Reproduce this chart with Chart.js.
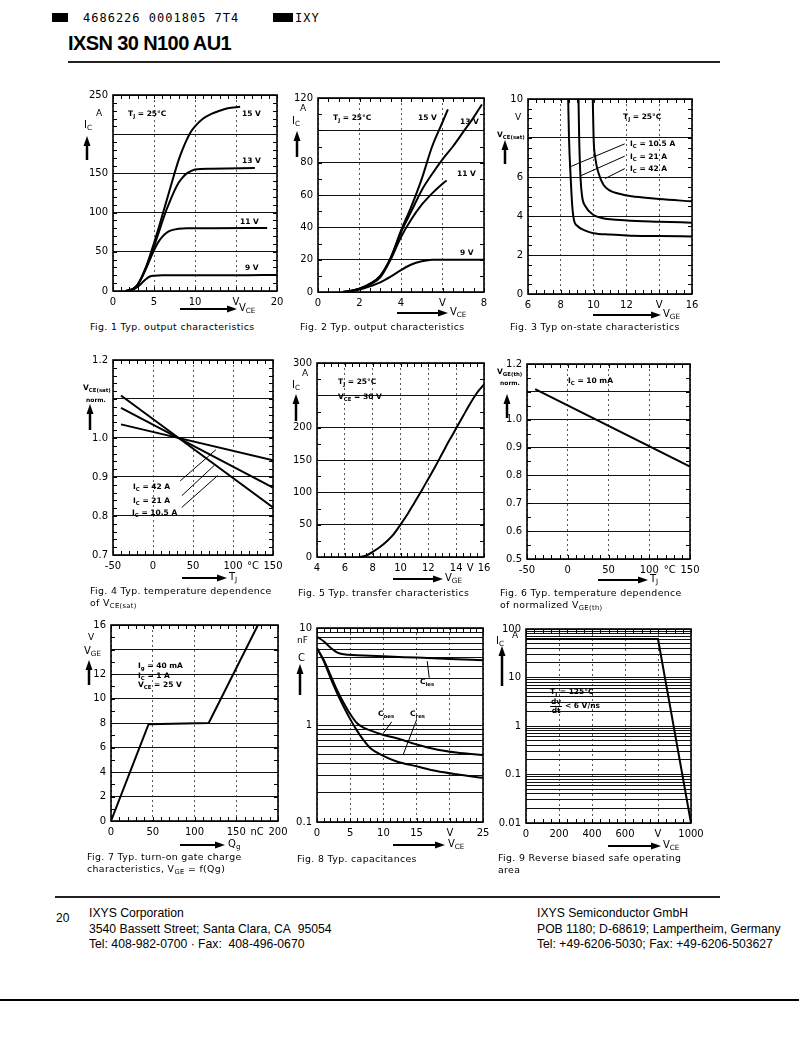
<!DOCTYPE html>
<html>
<head>
<meta charset="utf-8">
<script src="https://cdn.jsdelivr.net/npm/chart.js@4.4.0/dist/chart.umd.min.js"></script>
<style>
  body { margin: 0; background: #fff; }
  #page { position: relative; width: 799px; height: 1056px; overflow: hidden; font-family: "DejaVu Sans", sans-serif; color: #000; background: #fff; }
  #page canvas { position: absolute; }
  .t { position: absolute; white-space: nowrap; line-height: 1; }
  .cap { position: absolute; white-space: nowrap; font-size: 9.4px; line-height: 12px; letter-spacing: 0.35px; }
  .foot { position: absolute; white-space: nowrap; font-family: "Liberation Sans", Arial, sans-serif; font-size: 12.2px; line-height: 15.5px; }
  sub { font-size: 72%; vertical-align: -0.3em; line-height: 0; }
  svg { position: absolute; left: 0; top: 0; }
</style>
</head>
<body>
<div id="page">
  <div style="position:absolute;left:52px;top:13px;width:16px;height:9px;background:#000"></div>
  <div class="t" style="left:83px;top:12px;font-family:'DejaVu Sans Mono';font-size:12px;letter-spacing:1px">4686226 0001805 7T4</div>
  <div style="position:absolute;left:273px;top:13px;width:20px;height:9px;background:#000"></div>
  <div class="t" style="left:295px;top:12px;font-family:'DejaVu Sans Mono';font-size:12px;letter-spacing:1px">IXY</div>
  <div class="t" style="left:68px;top:33px;font-family:'Liberation Sans';font-weight:bold;font-size:20px;letter-spacing:-0.6px">IXSN 30 N100 AU1</div>
  <div style="position:absolute;left:68px;top:61px;width:652px;height:1.5px;background:#222"></div>

  <div style="position:absolute;left:55px;top:896px;width:665px;height:1.5px;background:#222"></div>
  <div class="foot" style="left:56px;top:911px;font-size:12px">20</div>
  <div class="foot" style="left:89px;top:906px">IXYS Corporation<br>3540 Bassett Street; Santa Clara, CA&nbsp; 95054<br>Tel: 408-982-0700 · Fax:&nbsp; 408-496-0670</div>
  <div class="foot" style="left:537px;top:906px">IXYS Semiconductor GmbH<br>POB 1180; D-68619; Lampertheim, Germany<br>Tel: +49-6206-5030; Fax: +49-6206-503627</div>
  <div style="position:absolute;left:0;top:999px;width:799px;height:2px;background:#000"></div>
</div>
<script>
// Fig. 1  output characteristics, Tj = 25 C  [VCE V, IC A]
const fig1Vge9 = [[1.5,0],[2,0.5],[2.5,2],[3,5],[3.5,10],[4,15],[4.5,18.5],[5,19.5],[6,20],[10,20],[15,20],[20,20.5]];
const fig1Vge11 = [[1.5,0],[2,1],[2.5,3],[3,8],[3.5,17],[4,28],[4.5,40],[5,52],[5.5,62],[6,69],[6.5,74],[7,77],[8,79.5],[9,80],[12,80],[18.8,80.5]];
const fig1Vge13 = [[1.5,0],[2,1],[2.5,3],[3,8],[3.5,17],[4,29],[4.5,42],[5,57],[5.5,72],[6,88],[6.5,103],[7,116],[7.5,128],[8,138],[8.5,145],[9,150],[9.5,153],[10,155],[12,156],[17.3,157]];
const fig1Vge15 = [[1.5,0],[2,1],[2.5,3],[3,8],[3.5,18],[4,30],[4.5,45],[5,61],[5.5,78],[6,96],[6.5,114],[7,132],[7.5,150],[8,167],[8.5,181],[9,193],[9.5,203],[10,210],[11,220],[12,226],[13,230],[14,233],[15.5,235]];
const fig1XTicks = [0, 5, 10, 15, 20];
const fig1XLabels = ['0', '5', '10', 'V', '20'];
const fig1YTicks = [0, 50, 100, 150, 200, 250];
const fig1YLabels = ['0', '50', '100', '150', '', '250'];

// Fig. 2  output characteristics, low range  [VCE V, IC A]
const fig2Vge9 = [[1.2,0],[1.5,0.3],[2,1.5],[2.5,3.5],[3,6],[3.5,9.5],[4,13.5],[4.5,17],[5,19],[5.5,20],[6,20],[8,20]];
const fig2Vge11 = [[1.2,0],[1.5,0.4],[2,2],[2.5,4.5],[3,9],[3.5,20],[4,34],[4.5,45],[5,54],[5.5,61],[6,67],[6.2,69]];
const fig2Vge13 = [[1.2,0],[1.5,0.4],[2,2],[2.5,5],[3,10],[3.5,21],[4,37],[4.5,50],[5,63],[5.5,73],[6,82],[6.5,90],[7,99],[7.5,108],[7.9,116]];
const fig2Vge15 = [[1.2,0],[1.5,0.4],[2,2],[2.5,5],[3,10],[3.5,21],[4,38],[4.5,53],[5,70],[5.5,90],[6,105],[6.26,113]];
const fig2XTicks = [0, 2, 4, 6, 8];
const fig2XLabels = ['0', '2', '4', 'V', '8'];
const fig2YTicks = [0, 20, 40, 60, 80, 100, 120];
const fig2YLabels = ['0', '20', '40', '60', '80', '', '120'];

// Fig. 3  on-state characteristics  [VGE V, VCE(sat) V]
const fig3Ic10 = [[8.45,10],[8.5,8],[8.6,6],[8.7,4.5],[8.8,3.8],[9,3.5],[9.5,3.25],[10,3.12],[11,3.05],[12,3.0],[14,2.97],[16,2.95]];
const fig3Ic21 = [[9.08,10],[9.12,8],[9.2,6],[9.3,5],[9.5,4.5],[10,4.05],[10.5,3.9],[11,3.83],[12,3.77],[14,3.71],[16,3.66]];
const fig3Ic42 = [[9.95,10],[10,8],[10.1,7],[10.3,6.2],[10.6,5.6],[11,5.3],[11.5,5.15],[12,5.05],[13,4.95],[14,4.87],[16,4.75]];
const fig3XTicks = [6, 8, 10, 12, 14, 16];
const fig3XLabels = ['6', '8', '10', '12', 'V', '16'];
const fig3YTicks = [0, 2, 4, 6, 8, 10];
const fig3YLabels = ['0', '2', '4', '6', '', '10'];

// Fig. 4  VCE(sat) normalized vs Tj  [Tj C, norm]
const fig4Ic10 = [[-40,1.109],[150,0.822]];
const fig4Ic21 = [[-40,1.077],[150,0.873]];
const fig4Ic42 = [[-40,1.035],[150,0.943]];
const fig4XTicks = [-50, 0, 50, 100, 125, 150];
const fig4XLabels = ['-50', '0', '50', '100', '°C', '150'];
const fig4YTicks = [0.7, 0.8, 0.9, 1.0, 1.1, 1.2];
const fig4YLabels = ['0.7', '0.8', '0.9', '1.0', '', '1.2'];

// Fig. 5  transfer characteristics  [VGE V, IC A]
const fig5Ic = [[7.0,0],[7.5,2],[8,8],[8.5,15],[9,24],[9.5,35],[10,50],[10.5,66],[11,84],[11.5,102],[12,121],[12.5,140],[13,160],[13.5,180],[14,199],[14.5,218],[15,237],[15.5,254],[16,267]];
const fig5XTicks = [4, 6, 8, 10, 12, 14, 15, 16];
const fig5XLabels = ['4', '6', '8', '10', '12', '14', 'V', '16'];
const fig5YTicks = [0, 50, 100, 150, 200, 250, 300];
const fig5YLabels = ['0', '50', '100', '150', '200', '', '300'];

// Fig. 6  VGE(th) normalized vs Tj
const fig6Vth = [[-40,1.11],[150,0.832]];
const fig6XTicks = [-50, 0, 50, 100, 125, 150];
const fig6XLabels = ['-50', '0', '50', '100', '°C', '150'];
const fig6YTicks = [0.5, 0.6, 0.7, 0.8, 0.9, 1.0, 1.1, 1.2];
const fig6YLabels = ['0.5', '0.6', '0.7', '0.8', '0.9', '1.0', '', '1.2'];

// Fig. 7  gate charge  [Qg nC, VGE V]
const fig7Vge = [[0,0],[45,7.9],[117,8.0],[176,16]];
const fig7XTicks = [0, 50, 100, 150, 175, 200];
const fig7XLabels = ['0', '50', '100', '150', 'nC', '200'];
const fig7YTicks = [0, 2, 4, 6, 8, 10, 12, 14, 16];
const fig7YLabels = ['0', '2', '4', '6', '8', '10', '12', '', '16'];

// Fig. 8  capacitances  [VCE V, C nF]
const fig8Ciss = [[0,8.1],[1,7.3],[2,6.3],[3,5.6],[4,5.35],[6,5.25],[10,5.1],[15,4.95],[20,4.8],[25,4.65]];
const fig8Coss = [[0,6.2],[1,4.7],[2,3.3],[3,2.3],[4,1.7],[5,1.3],[6,1.05],[7,0.94],[8,0.88],[10,0.79],[12,0.73],[15,0.63],[18,0.56],[21,0.52],[25,0.49]];
const fig8Crss = [[0,6.2],[1,4.6],[2,3.1],[3,2.15],[4,1.55],[5,1.15],[6,0.88],[7,0.7],[8,0.58],[10,0.48],[12,0.42],[15,0.375],[18,0.335],[21,0.31],[25,0.285]];
const fig8XTicks = [0, 5, 10, 15, 20, 25];
const fig8XLabels = ['0', '5', '10', '15', 'V', '25'];
const fig8YTicks = [0.1, 1, 10];
const fig8YLabels = ['0.1', '1', '10'];

// Fig. 9  RBSOA  [VCE V, IC A]
const fig9Ic = [[0,62],[800,62],[1000,0.01]];
const fig9XTicks = [0, 200, 400, 600, 800, 1000];
const fig9XLabels = ['0', '200', '400', '600', 'V', '1000'];
const fig9YTicks = [0.01, 0.1, 1, 10, 100];
const fig9YLabels = ['0.01', '0.1', '1', '10', '100'];

const page = document.getElementById('page');
const PAD_L = 46, PAD_T = 10, PAD_R = 18, PAD_B = 26;

// frame, inward minor ticks and label leader lines
const framePlugin = {
  id: 'frame',
  afterDraw(chart, args, o) {
    const { ctx, chartArea: a, scales: { x, y } } = chart;
    ctx.save();
    ctx.strokeStyle = '#000';
    ctx.lineWidth = 1;
    ctx.beginPath();
    if (o.minorX) {
      for (let i = 0; x.min + i * o.minorX <= x.max + 1e-9; i++) {
        const px = Math.round(x.getPixelForValue(x.min + i * o.minorX)) + 0.5;
        ctx.moveTo(px, a.top); ctx.lineTo(px, a.top + 4);
        ctx.moveTo(px, a.bottom); ctx.lineTo(px, a.bottom - 4);
      }
    }
    if (o.minorY) {
      for (let i = 0; y.min + i * o.minorY <= y.max + 1e-9; i++) {
        const py = Math.round(y.getPixelForValue(y.min + i * o.minorY)) + 0.5;
        ctx.moveTo(a.left, py); ctx.lineTo(a.left + 4, py);
        ctx.moveTo(a.right, py); ctx.lineTo(a.right - 4, py);
      }
    }
    (o.leaders || []).forEach(l => {
      ctx.moveTo(x.getPixelForValue(l[0][0]), y.getPixelForValue(l[0][1]));
      ctx.lineTo(x.getPixelForValue(l[1][0]), y.getPixelForValue(l[1][1]));
    });
    ctx.stroke();
    ctx.lineWidth = 1.6;
    ctx.strokeRect(a.left, a.top, a.right - a.left, a.bottom - a.top);
    ctx.restore();
  }
};

function logGrid(min, max) {
  const out = [];
  for (let d = min; d < max * 0.999; d *= 10) {
    for (let m = 1; m <= 9; m++) out.push(+(m * d).toPrecision(6));
  }
  out.push(max);
  return out;
}

function labelFor(vals, labs) {
  return v => {
    const i = vals.findIndex(t => Math.abs(t - v) < 1e-6 * Math.max(1, Math.abs(t)));
    return i < 0 ? '' : labs[i];
  };
}

function makeChart(box, o) {
  const cv = document.createElement('canvas');
  const w = box.r - box.l + PAD_L + PAD_R, h = box.b - box.t + PAD_T + PAD_B;
  cv.width = w; cv.height = h;
  cv.style.left = (box.l - PAD_L) + 'px';
  cv.style.top = (box.t - PAD_T) + 'px';
  cv.style.width = w + 'px'; cv.style.height = h + 'px';
  page.appendChild(cv);
  const tickFont = { family: 'DejaVu Sans', size: 10 };
  const yGrid = o.yLog ? logGrid(o.yMin, o.yMax) : o.yTicks;
  const noGrid = o.xNoGrid || [];
  new Chart(cv, {
    type: 'scatter',
    data: {
      datasets: o.series.map(s => ({
        data: s.map(p => ({ x: p[0], y: p[1] })),
        showLine: true,
        borderColor: '#000',
        borderWidth: 2,
        pointRadius: 0,
        tension: 0,
        cubicInterpolationMode: o.smooth ? 'monotone' : 'default'
      }))
    },
    options: {
      responsive: false,
      animation: false,
      devicePixelRatio: 1,
      layout: { padding: { left: 0, top: PAD_T, right: PAD_R, bottom: 0 } },
      plugins: {
        legend: { display: false },
        tooltip: { enabled: false },
        frame: { minorX: o.minorX, minorY: o.minorY, leaders: o.leaders || [] }
      },
      scales: {
        x: {
          type: 'linear', min: o.xMin, max: o.xMax,
          afterBuildTicks: s => { s.ticks = o.xTicks.map(v => ({ value: v })); },
          afterFit: s => { s.height = PAD_B; },
          grid: {
            drawTicks: false, lineWidth: 0.9,
            color: c => (c.tick && noGrid.includes(c.tick.value)) ? 'rgba(0,0,0,0)' : '#444'
          },
          border: { display: false, dash: [2, 3] },
          ticks: { padding: 5, color: '#000', font: tickFont, maxRotation: 0, autoSkip: false, callback: labelFor(o.xTicks, o.xLabels) }
        },
        y: {
          type: o.yLog ? 'logarithmic' : 'linear', min: o.yMin, max: o.yMax,
          afterBuildTicks: s => { s.ticks = yGrid.map(v => ({ value: v })); },
          afterFit: s => { s.width = PAD_L; },
          grid: { drawTicks: false, lineWidth: 1, color: '#111' },
          border: { display: false },
          ticks: { padding: 5, color: '#000', font: tickFont, autoSkip: false, callback: labelFor(o.yTicks, o.yLabels) }
        }
      }
    },
    plugins: [framePlugin]
  });
}

makeChart({ l: 113, t: 94, r: 277, b: 291 }, {
  series: [fig1Vge9, fig1Vge11, fig1Vge13, fig1Vge15], smooth: true,
  xMin: 0, xMax: 20, xTicks: fig1XTicks, xLabels: fig1XLabels,
  yMin: 0, yMax: 250, yTicks: fig1YTicks, yLabels: fig1YLabels,
  minorX: 1, minorY: 10
});
makeChart({ l: 318, t: 97, r: 484, b: 292 }, {
  series: [fig2Vge9, fig2Vge11, fig2Vge13, fig2Vge15], smooth: true,
  xMin: 0, xMax: 8, xTicks: fig2XTicks, xLabels: fig2XLabels,
  yMin: 0, yMax: 120, yTicks: fig2YTicks, yLabels: fig2YLabels,
  minorX: 0.5, minorY: 10
});
makeChart({ l: 528, t: 98, r: 692, b: 294 }, {
  series: [fig3Ic10, fig3Ic21, fig3Ic42], smooth: true,
  xMin: 6, xMax: 16, xTicks: fig3XTicks, xLabels: fig3XLabels,
  yMin: 0, yMax: 10, yTicks: fig3YTicks, yLabels: fig3YLabels,
  minorX: 0.5, minorY: 0.5,
  leaders: [[[11.9, 7.7], [8.5, 6.5]], [[11.9, 7.07], [9.18, 6.05]], [[11.9, 6.43], [10.7, 5.92]]]
});
makeChart({ l: 113, t: 359, r: 273, b: 555 }, {
  series: [fig4Ic10, fig4Ic21, fig4Ic42],
  xMin: -50, xMax: 150, xTicks: fig4XTicks, xLabels: fig4XLabels, xNoGrid: [125],
  yMin: 0.7, yMax: 1.2, yTicks: fig4YTicks, yLabels: fig4YLabels,
  minorX: 10, minorY: 0.02,
  leaders: [[[34, 0.89], [78.7, 0.97]], [[36, 0.852], [76.7, 0.93]], [[36, 0.822], [81, 0.904]]]
});
makeChart({ l: 317, t: 362, r: 484, b: 557 }, {
  series: [fig5Ic], smooth: true,
  xMin: 4, xMax: 16, xTicks: fig5XTicks, xLabels: fig5XLabels, xNoGrid: [15],
  yMin: 0, yMax: 300, yTicks: fig5YTicks, yLabels: fig5YLabels,
  minorX: 0.5, minorY: 25
});
makeChart({ l: 527, t: 363, r: 690, b: 559 }, {
  series: [fig6Vth],
  xMin: -50, xMax: 150, xTicks: fig6XTicks, xLabels: fig6XLabels, xNoGrid: [125],
  yMin: 0.5, yMax: 1.2, yTicks: fig6YTicks, yLabels: fig6YLabels,
  minorX: 10, minorY: 0.05
});
makeChart({ l: 111, t: 624, r: 278, b: 821 }, {
  series: [fig7Vge],
  xMin: 0, xMax: 200, xTicks: fig7XTicks, xLabels: fig7XLabels, xNoGrid: [175],
  yMin: 0, yMax: 16, yTicks: fig7YTicks, yLabels: fig7YLabels,
  minorX: 10, minorY: 1
});
makeChart({ l: 317, t: 627, r: 483, b: 822 }, {
  series: [fig8Ciss, fig8Coss, fig8Crss], smooth: true,
  xMin: 0, xMax: 25, xTicks: fig8XTicks, xLabels: fig8XLabels,
  yLog: true, yMin: 0.1, yMax: 10, yTicks: fig8YTicks, yLabels: fig8YLabels,
  minorX: 1,
  leaders: [[[16.6, 4.55], [16.9, 3.07]], [[11.25, 1.077], [10, 0.825]], [[15, 1.13], [13, 0.5]]]
});
makeChart({ l: 526, t: 628, r: 691, b: 823 }, {
  series: [fig9Ic],
  xMin: 0, xMax: 1000, xTicks: fig9XTicks, xLabels: fig9XLabels,
  yLog: true, yMin: 0.01, yMax: 100, yTicks: fig9YTicks, yLabels: fig9YLabels,
  minorX: 50
});

// text annotations: [html, left, top, size, weight]
const notes = [
  ['T<sub>J</sub> = 25°C', 128, 110, 7.5, 'bold'], ['15 V', 242, 110, 7.5, 'bold'], ['13 V', 242, 157, 7.5, 'bold'],
  ['11 V', 240, 218, 7.5, 'bold'], ['9 V', 245, 264, 7.5, 'bold'],
  ['A', 96, 109, 9, 'normal'], ['I<sub>C</sub>', 84, 120, 10, 'normal'],
  ['V<sub>CE</sub>', 239, 303, 10, 'normal'],
  ['T<sub>J</sub> = 25°C', 333, 114, 7.5, 'bold'], ['15 V', 418, 114, 7.5, 'bold'], ['13 V', 460, 118, 7.5, 'bold'],
  ['11 V', 457, 170, 7.5, 'bold'], ['9 V', 460, 249, 7.5, 'bold'],
  ['A', 300, 104, 9, 'normal'], ['I<sub>C</sub>', 292, 116, 10, 'normal'],
  ['V<sub>CE</sub>', 450, 307, 10, 'normal'],
  ['T<sub>J</sub> = 25°C', 623, 113, 7.5, 'bold'], ['I<sub>C</sub> = 10.5 A', 630, 140, 7.5, 'bold'],
  ['I<sub>C</sub> = 21 A', 630, 153, 7.5, 'bold'], ['I<sub>C</sub> = 42 A', 630, 165, 7.5, 'bold'],
  ['V', 515, 113, 9, 'normal'], ['V<sub>CE(sat)</sub>', 497, 131, 7.5, 'bold'],
  ['V<sub>GE</sub>', 663, 309, 10, 'normal'],
  ['I<sub>C</sub> = 42 A', 133, 483, 7.5, 'bold'], ['I<sub>C</sub> = 21 A', 133, 497, 7.5, 'bold'],
  ['I<sub>C</sub> = 10.5 A', 132, 509, 7.5, 'bold'],
  ['V<sub>CE(sat)</sub>', 83, 384, 7.5, 'bold'], ['norm.', 86, 397, 6, 'bold'],
  ['T<sub>J</sub>', 229, 572, 10, 'normal'],
  ['T<sub>J</sub> = 25°C', 338, 378, 7.5, 'bold'], ['V<sub>CE</sub> = 30 V', 338, 393, 7.5, 'bold'],
  ['A', 302, 369, 9, 'normal'], ['I<sub>C</sub>', 292, 380, 10, 'normal'],
  ['V<sub>GE</sub>', 445, 573, 10, 'normal'],
  ['I<sub>C</sub> = 10 mA', 568, 377, 7.5, 'bold'],
  ['V<sub>GE(th)</sub>', 497, 368, 7.5, 'bold'], ['norm.', 500, 380, 6, 'bold'],
  ['T<sub>J</sub>', 650, 574, 10, 'normal'],
  ['V', 88, 633, 9, 'normal'], ['V<sub>GE</sub>', 84, 646, 10, 'normal'],
  ['I<sub>g</sub> = 40 mA', 138, 662, 7.5, 'bold'], ['I<sub>C</sub> = 1 A', 138, 672, 7.5, 'bold'],
  ['V<sub>CE</sub> = 25 V', 138, 681, 7.5, 'bold'],
  ['Q<sub>g</sub>', 228, 839, 10, 'normal'],
  ['nF', 297, 636, 9, 'normal'], ['C', 298, 653, 10, 'normal'],
  ['C<sub>ies</sub>', 420, 678, 7.5, 'bold'], ['C<sub>oes</sub>', 378, 710, 7.5, 'bold'], ['C<sub>res</sub>', 410, 710, 7.5, 'bold'],
  ['V<sub>CE</sub>', 448, 839, 10, 'normal'],
  ['I<sub>C</sub>', 496, 636, 10, 'normal'], ['A', 512, 631, 9, 'normal'],
  ['T<sub>J</sub> = 125°C', 550, 688, 7.5, 'bold'],
  ['<span style="display:inline-block;text-align:center;vertical-align:middle"><span style="display:block;border-bottom:1px solid #000;padding:0 1px">dv</span><span style="display:block">dt</span></span> &lt; 6 V/ns', 550, 698, 7.5, 'bold'],
  ['V<sub>CE</sub>', 663, 840, 10, 'normal']
];
notes.forEach(n => {
  const d = document.createElement('div');
  d.className = 't';
  d.innerHTML = n[0];
  d.style.left = n[1] + 'px';
  d.style.top = n[2] + 'px';
  d.style.fontSize = n[3] + 'px';
  d.style.fontWeight = n[4];
  page.appendChild(d);
});

const captions = [
  ['Fig. 1 Typ. output characteristics', 90, 321],
  ['Fig. 2 Typ. output characteristics', 300, 321],
  ['Fig. 3 Typ on-state characteristics', 510, 321],
  ['Fig. 4 Typ. temperature dependence<br>of V<sub>CE(sat)</sub>', 90, 585],
  ['Fig. 5 Typ. transfer characteristics', 298, 587],
  ['Fig. 6 Typ. temperature dependence<br>of normalized V<sub>GE(th)</sub>', 500, 587],
  ['Fig. 7 Typ. turn-on gate charge<br>characteristics, V<sub>GE</sub> = f(Qg)', 87, 851],
  ['Fig. 8 Typ. capacitances', 297, 853],
  ['Fig. 9 Reverse biased safe operating<br>area', 498, 852]
];
captions.forEach(c => {
  const d = document.createElement('div');
  d.className = 'cap';
  d.innerHTML = c[0];
  d.style.left = c[1] + 'px';
  d.style.top = c[2] + 'px';
  page.appendChild(d);
});

// axis arrows
const hArrows = [[180, 237, 309], [397, 448, 313], [593, 661, 315], [182, 227, 578], [393, 443, 579], [598, 648, 580], [180, 225, 845], [393, 445, 845], [608, 661, 846]];
const vArrows = [[87, 136, 160], [297, 131, 157], [505, 140, 164], [90, 404, 430], [296, 394, 421], [507, 394, 418], [89, 660, 685], [300, 664, 695], [502, 646, 686]];
const ns = 'http://www.w3.org/2000/svg';
const svg = document.createElementNS(ns, 'svg');
svg.setAttribute('width', 799); svg.setAttribute('height', 1056);
function el(tag, attrs) {
  const e = document.createElementNS(ns, tag);
  Object.keys(attrs).forEach(k => e.setAttribute(k, attrs[k]));
  svg.appendChild(e);
}
hArrows.forEach(([x1, x2, y]) => {
  el('line', { x1: x1, y1: y, x2: x2 - 8, y2: y, stroke: '#000', 'stroke-width': 2 });
  el('polygon', { points: `${x2},${y} ${x2 - 10},${y - 3.5} ${x2 - 10},${y + 3.5}`, fill: '#000' });
});
vArrows.forEach(([x, y1, y2]) => {
  el('line', { x1: x, y1: y1 + 8, x2: x, y2: y2, stroke: '#000', 'stroke-width': 2.5 });
  el('polygon', { points: `${x},${y1} ${x - 3.5},${y1 + 10} ${x + 3.5},${y1 + 10}`, fill: '#000' });
});
page.appendChild(svg);
</script>
</body>
</html>
